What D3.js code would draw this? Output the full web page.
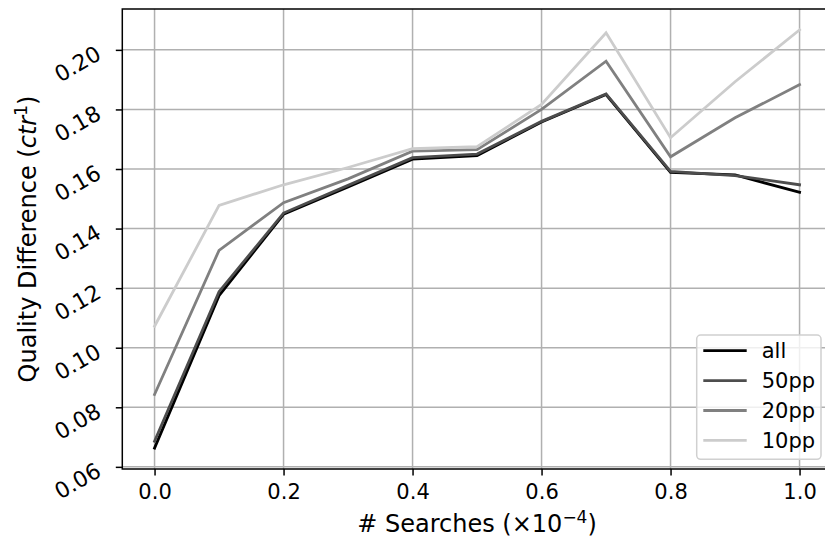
<!DOCTYPE html>
<html>
<head>
<meta charset="utf-8">
<script src="https://cdn.jsdelivr.net/npm/d3@7"></script>
<style>
  html, body { margin: 0; padding: 0; background: #fff; }
  svg { display: block; font-family: "DejaVu Sans", sans-serif; }
</style>
</head>
<body>
<svg id="chart" width="825" height="539"></svg>
<script>
// ---- data ----
const xValues = [0.0, 0.1, 0.2, 0.3, 0.4, 0.5, 0.6, 0.7, 0.8, 0.9, 1.0];
const seriesNames = ["all", "50pp", "20pp", "10pp"];
const allValues  = [0.0663, 0.1175, 0.1448, 0.1540, 0.1633, 0.1645, 0.1758, 0.1850, 0.1589, 0.1580, 0.1522];
const pp50Values = [0.0686, 0.1188, 0.1452, 0.1545, 0.1638, 0.1650, 0.1760, 0.1852, 0.1592, 0.1578, 0.1547];
const pp20Values = [0.0843, 0.1327, 0.1487, 0.1567, 0.1660, 0.1665, 0.1800, 0.1962, 0.1641, 0.1772, 0.1883];
const pp10Values = [0.1072, 0.1478, 0.1547, 0.1605, 0.1668, 0.1675, 0.1817, 0.2057, 0.1705, 0.1893, 0.2067];
const seriesColors = ["#000000", "#4d4d4d", "#808080", "#cccccc"];
const xTicks = [0.0, 0.2, 0.4, 0.6, 0.8, 1.0];
const yTicks = [0.06, 0.08, 0.10, 0.12, 0.14, 0.16, 0.18, 0.20];

const series = [allValues, pp50Values, pp20Values, pp10Values];

// ---- layout ----
const svg = d3.select("#chart");
const plotLeft = 122.3, plotTop = 9, plotBottom = 469;
const xMin = d3.min(xValues), xMax = d3.max(xValues);
const xPad = (xMax - xMin) * 0.05;
const x = d3.scaleLinear().domain([xMin - xPad, xMax + xPad]).range([plotLeft, plotLeft + 709.5]);
const yAll = series.flat();
const yMin = d3.min(yAll), yMax = d3.max(yAll);
const yPad = (yMax - yMin) * 0.05;
const y = d3.scaleLinear().domain([yMin - yPad, yMax + yPad]).range([plotBottom, plotTop]);
const plotRight = x.range()[1];

// grid
const grid = svg.append("g");
grid.selectAll("line.gx").data(xTicks).join("line")
  .attr("x1", d => x(d)).attr("x2", d => x(d))
  .attr("y1", plotTop).attr("y2", plotBottom)
  .attr("stroke", "#b0b0b0").attr("stroke-width", 1.5);
grid.selectAll("line.gy").data(yTicks).join("line")
  .attr("x1", plotLeft).attr("x2", plotRight)
  .attr("y1", d => y(d)).attr("y2", d => y(d))
  .attr("stroke", "#b0b0b0").attr("stroke-width", 1.5);

// lines
const line = d3.line().x((d, i) => x(xValues[i])).y(d => y(d));
svg.append("g").selectAll("path").data(series).join("path")
  .attr("d", d => line(d))
  .attr("fill", "none")
  .attr("stroke", (d, i) => seriesColors[i])
  .attr("stroke-width", 2.8)
  .attr("stroke-linejoin", "miter")
  .attr("stroke-linecap", "square");

// spines
svg.append("rect")
  .attr("x", plotLeft).attr("y", plotTop)
  .attr("width", plotRight - plotLeft).attr("height", plotBottom - plotTop)
  .attr("fill", "none").attr("stroke", "#000").attr("stroke-width", 1.5);

// x axis
const xAxis = d3.axisBottom(x).tickValues(xTicks).tickFormat(d3.format(".1f"))
  .tickSize(6.5).tickPadding(8.5);
const gx = svg.append("g").attr("transform", `translate(0,${plotBottom})`).call(xAxis);
gx.select(".domain").remove();
gx.selectAll(".tick line").attr("stroke", "#000").attr("stroke-width", 1.5);
gx.selectAll(".tick text").attr("fill", "#000").attr("font-size", 21)
  .attr("font-family", "DejaVu Sans");

// y axis
const yAxis = d3.axisLeft(y).tickValues(yTicks).tickFormat(d3.format(".2f"))
  .tickSize(6.5).tickPadding(0);
const gy = svg.append("g").attr("transform", `translate(${plotLeft},0)`).call(yAxis);
gy.select(".domain").remove();
gy.selectAll(".tick line").attr("stroke", "#000").attr("stroke-width", 1.5);
gy.selectAll(".tick text")
  .attr("fill", "#000").attr("font-size", 22).attr("font-family", "DejaVu Sans")
  .attr("x", null).attr("dy", null)
  .attr("text-anchor", "end")
  .attr("dominant-baseline", "central")
  .attr("transform", "translate(-23.5,1.5) rotate(-30)");

// axis labels
const xl = svg.append("text")
  .attr("x", (plotLeft + plotRight) / 2).attr("y", 532)
  .attr("text-anchor", "middle").attr("font-size", 24).attr("fill", "#000");
xl.append("tspan").text("# Searches (×10");
xl.append("tspan").attr("font-size", 17).attr("dy", -9.5).text("−4");
xl.append("tspan").attr("dy", 9.5).text(")");

const yl = svg.append("text")
  .attr("transform", `translate(36,${(plotTop + plotBottom) / 2}) rotate(-90)`)
  .attr("text-anchor", "middle").attr("font-size", 24).attr("fill", "#000");
yl.append("tspan").text("Quality Difference (");
yl.append("tspan").attr("font-style", "italic").text("ctr");
yl.append("tspan").attr("font-size", 17).attr("dy", -9.5).text("1");
yl.append("tspan").attr("dy", 9.5).text(")");

// legend
const lg = svg.append("g");
lg.append("rect")
  .attr("x", 696.7).attr("y", 335).attr("width", 124.3).attr("height", 124.3)
  .attr("rx", 4).attr("fill", "#fff").attr("fill-opacity", 0.8)
  .attr("stroke", "#d0d0d0").attr("stroke-width", 1.5);
const rows = lg.selectAll("g.row").data(seriesNames).join("g")
  .attr("transform", (d, i) => `translate(0,${350.7 + i * 29.9})`);
rows.append("line")
  .attr("x1", 703.3).attr("x2", 746.7).attr("y1", 0).attr("y2", 0)
  .attr("stroke", (d, i) => seriesColors[i]).attr("stroke-width", 2.8);
rows.append("text")
  .attr("x", 761.7).attr("y", 7.6)
  .attr("font-size", 21).attr("fill", "#000")
  .text(d => d);
</script>
</body>
</html>
